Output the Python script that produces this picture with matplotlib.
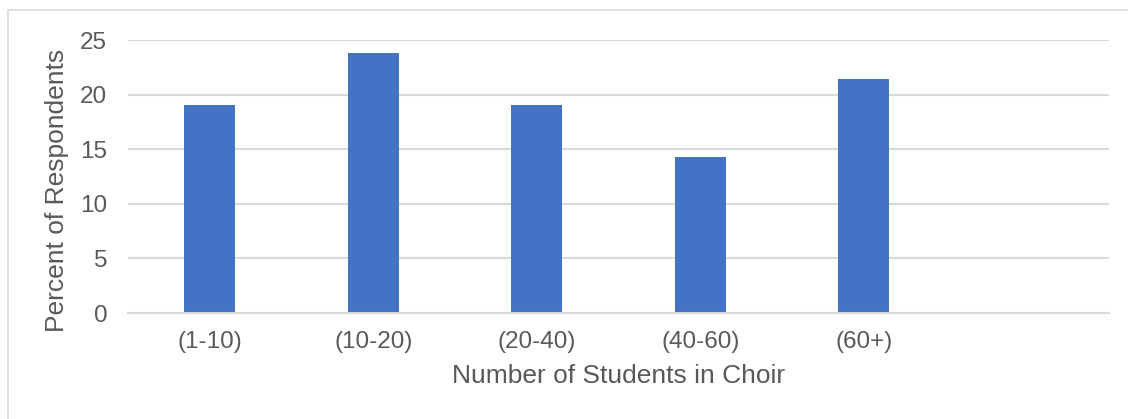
import matplotlib
matplotlib.use("Agg")
import matplotlib.pyplot as plt
from matplotlib.patches import Rectangle

# Choir size survey
categories = ["(1-10)", "(10-20)", "(20-40)", "(40-60)", "(60+)", ""]
percent = [19.05, 23.81, 19.05, 14.29, 21.43, 0]
y_ticks = [0, 5, 10, 15, 20, 25]

plt.rcParams["font.family"] = ["Liberation Sans", "DejaVu Sans"]
text_color = "#595959"
grid_color = "#d9d9d9"
bar_color = "#4472c4"

fig = plt.figure(figsize=(11.28, 4.19), dpi=100)
W, H = 1128, 419
ax = fig.add_axes([128 / W, 1 - 313 / H, (1109 - 128) / W, (313 - 40) / H])

# Outer chart frame
fig.patches.append(Rectangle((8 / W, -0.1), 1.2, 1 - 10 / H + 0.1,
                             transform=fig.transFigure, fill=False,
                             edgecolor="#d9d9d9", linewidth=1.2))

x = list(range(len(categories)))
ax.bar(x, percent, width=0.31, color=bar_color, zorder=3)

ax.set_xlim(-0.5, len(categories) - 0.5)
ax.set_ylim(0, 25)
ax.set_yticks(y_ticks)
ax.set_xticks(x)
ax.set_xticklabels(categories)

ax.yaxis.grid(True, color=grid_color, linewidth=1.5, zorder=0)
for side in ("top", "right", "left"):
    ax.spines[side].set_visible(False)
ax.spines["bottom"].set_color(grid_color)
ax.spines["bottom"].set_linewidth(1.5)
ax.spines["bottom"].set_zorder(4)

ax.tick_params(axis="both", length=0, labelsize=17.5, colors=text_color)
ax.tick_params(axis="x", pad=13)
ax.tick_params(axis="y", pad=15)

ax.set_xlabel("Number of Students in Choir", fontsize=19, color=text_color, labelpad=8)
ax.set_ylabel("Percent of Respondents", fontsize=19, color=text_color)
ax.yaxis.set_label_coords(-0.060, 0.45)

fig.savefig("out.png", dpi=100)
